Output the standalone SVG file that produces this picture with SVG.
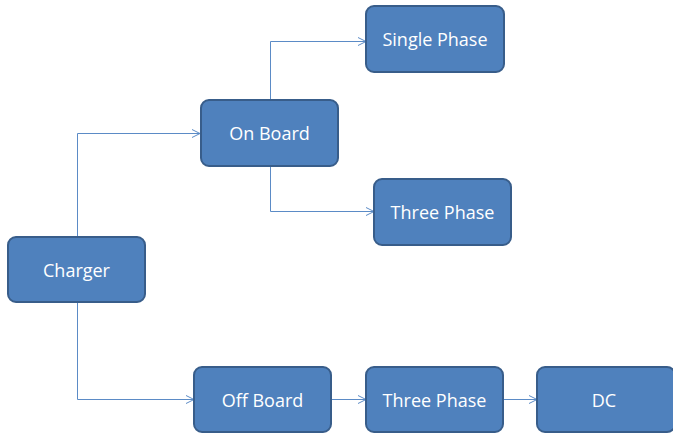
<svg xmlns="http://www.w3.org/2000/svg" width="673" height="434" viewBox="0 0 673 434">
<defs>
<marker id="arr" markerWidth="10" markerHeight="10" refX="9" refY="5" orient="auto" markerUnits="userSpaceOnUse">
<path d="M1,1 L9,5 L1,9" fill="none" stroke="#5B8BC6" stroke-width="1"/>
</marker>
<style>
.box{fill:#4F81BD;stroke:#385D8A;stroke-width:2}
.lbl{fill:#ffffff;font-family:"Open Sans","Liberation Sans",sans-serif;font-size:18px;text-anchor:middle;dominant-baseline:central}
.con{fill:none;stroke:#5B8BC6;stroke-width:1;marker-end:url(#arr)}
</style>
</defs>
<rect width="673" height="434" fill="#ffffff"/>
<g id="connectors">
<path class="con" d="M77.5,237 V133.5 H200"/>
<path class="con" d="M77.5,302 V399.5 H194"/>
<path class="con" d="M270.5,100 V41.5 H366"/>
<path class="con" d="M270.5,166 V211.5 H374"/>
<path class="con" d="M331,399.5 H366"/>
<path class="con" d="M503,399.5 H537"/>
</g>
<g id="charger"><rect class="box" x="8" y="237" width="137" height="65" rx="8"/><text class="lbl" x="76.5" y="269.5">Charger</text></g>
<g id="onboard"><rect class="box" x="201" y="100" width="137" height="66" rx="8"/><text class="lbl" x="269.5" y="133">On Board</text></g>
<g id="singlephase"><rect class="box" x="366" y="6" width="138" height="66" rx="8"/><text class="lbl" x="435" y="39">Single Phase</text></g>
<g id="threephase1"><rect class="box" x="374" y="179" width="137" height="66" rx="8"/><text class="lbl" x="442.5" y="212">Three Phase</text></g>
<g id="offboard"><rect class="box" x="194" y="367" width="137" height="65" rx="8"/><text class="lbl" x="262.5" y="399.5">Off Board</text></g>
<g id="threephase2"><rect class="box" x="366" y="367" width="137" height="65" rx="8"/><text class="lbl" x="434.5" y="399.5">Three Phase</text></g>
<g id="dc"><rect class="box" x="537" y="367" width="138" height="65" rx="8"/><text class="lbl" x="604" y="399.5">DC</text></g>
</svg>
